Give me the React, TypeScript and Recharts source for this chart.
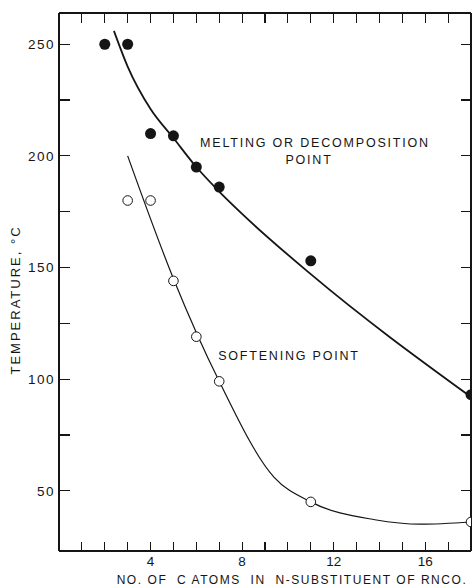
import React from 'react';
import { ComposedChart, Line, Scatter, XAxis, YAxis } from 'recharts';

// Measured points: carbon atoms in the N-substituent vs. temperature (°C)
const meltAtoms = [2, 3, 4, 5, 6, 7, 11, 18];
const meltTemps = [250, 250, 210, 209, 195, 186, 153, 93];
const softAtoms = [3, 4, 5, 6, 7, 11, 18];
const softTemps = [180, 180, 144, 119, 99, 45, 36];

// Hand-drawn smoothing curves through the points
const meltCurveAtoms = [2.4, 3, 4, 5, 6, 7, 8, 11, 18];
const meltCurveTemps = [256, 240, 221, 208, 195, 184, 174, 147, 92];
const softCurveAtoms = [3, 5, 7, 9.4, 11, 13.8, 15.8, 18];
const softCurveTemps = [200, 145, 99, 56, 45, 37, 35, 36];

const xTicks = [1, 2, 3, 4, 5, 6, 7, 8, 9, 10, 11, 12, 13, 14, 15, 16, 17, 18];
const topTicks = [1, 2, 3, 4, 5, 6, 7, 8, 9, 10, 11, 12, 13, 14, 15, 16, 17];
const xLabels = [4, 8, 12, 16];
const yTicks = [50, 75, 100, 125, 150, 175, 200, 225, 250];
const yLabels = [50, 100, 150, 200, 250];

const X_DOMAIN: [number, number] = [0, 18];
const Y_DOMAIN: [number, number] = [23, 264];

const zip = (xs: number[], ys: number[]) => xs.map((c, i) => ({ c, t: ys[i] }));
const meltPoints = zip(meltAtoms, meltTemps);
const softPoints = zip(softAtoms, softTemps);
const meltCurve = zip(meltCurveAtoms, meltCurveTemps);
const softCurve = zip(softCurveAtoms, softCurveTemps);
// anchor points on the top edge for the frame's tick marks
const topTickMarks = topTicks.map((c) => ({ c, t: Y_DOMAIN[1] }));

const INK = '#151515';
const FONT = '"Liberation Sans", Arial, sans-serif';

const fmtX = (v: number) => (xLabels.includes(v) ? String(v) : '');
const fmtY = (v: number) => (yLabels.includes(v) ? String(v) : '');
const blank = () => '';

const frameLine = { stroke: INK, strokeWidth: 1.2, shapeRendering: 'crispEdges' };

const FilledDot = ({ cx, cy }: any) => <circle cx={cx} cy={cy} r={5.5} fill={INK} />;
const OpenDot = ({ cx, cy }: any) => (
  <circle cx={cx} cy={cy} r={4.8} fill="#fff" stroke={INK} strokeWidth={1} />
);
// short mark hanging down from the top frame
const TopMark = ({ cx, cy }: any) => (
  <line x1={cx} x2={cx} y1={cy} y2={cy + 10} stroke={INK} strokeWidth={1.2}
    shapeRendering="crispEdges" />
);

const textStyle = { fontFamily: FONT, fill: INK } as const;
const tickText = { fontSize: 13.5, fontFamily: FONT, fill: INK };

export default function App() {
  return (
    <div style={{ position: 'absolute', left: 0, top: 0, background: '#fff' }}>
      <ComposedChart width={475} height={588} margin={{ top: 0, right: 0, bottom: 0, left: 0 }}>
        {/* frame: all four sides carry inward tick marks; the top/right pair mirrors the scales */}
        <XAxis xAxisId="b" dataKey="c" type="number" domain={X_DOMAIN} ticks={xTicks} interval={0}
          allowDataOverflow orientation="bottom" height={37} tickSize={-9} tickMargin={14}
          axisLine={frameLine} tickLine={frameLine} tick={tickText} tickFormatter={fmtX} />
        <XAxis xAxisId="t" dataKey="c" type="number" domain={X_DOMAIN} ticks={topTicks} interval={0}
          allowDataOverflow orientation="top" height={13} tickSize={0} tickMargin={0}
          axisLine={frameLine} tickLine={false} tick={false} tickFormatter={blank} />
        <YAxis yAxisId="l" type="number" domain={Y_DOMAIN} ticks={yTicks} interval={0}
          allowDataOverflow orientation="left" width={59} tickSize={-11} tickMargin={15}
          axisLine={frameLine} tickLine={frameLine}
          tick={{ ...tickText, letterSpacing: 1.5 }} tickFormatter={fmtY} />
        <YAxis yAxisId="r" type="number" domain={Y_DOMAIN} ticks={yTicks} interval={0}
          allowDataOverflow orientation="right" width={4} tickSize={-10} tickMargin={0}
          axisLine={frameLine} tickLine={frameLine} tick={{ fill: 'none' }}
          tickFormatter={blank} />

        <Scatter xAxisId="t" yAxisId="r" data={topTickMarks} dataKey="t" shape={<TopMark />}
          isAnimationActive={false} />

        <Line xAxisId="b" yAxisId="l" data={meltCurve} dataKey="t" type="monotone" stroke={INK}
          strokeWidth={1.8} dot={false} activeDot={false} isAnimationActive={false} />
        <Line xAxisId="t" yAxisId="r" data={softCurve} dataKey="t" type="monotone" stroke={INK}
          strokeWidth={1.2} dot={false} activeDot={false} isAnimationActive={false} />
        <Scatter xAxisId="b" yAxisId="l" data={meltPoints} dataKey="t" shape={<FilledDot />}
          isAnimationActive={false} />
        <Scatter xAxisId="t" yAxisId="r" data={softPoints} dataKey="t" shape={<OpenDot />}
          isAnimationActive={false} />

        <text x={315} y={147} textAnchor="middle" fontSize={12.5} letterSpacing={1.8} {...textStyle}>
          MELTING OR DECOMPOSITION
        </text>
        <text x={309} y={164} textAnchor="middle" fontSize={12.5} letterSpacing={1.8} {...textStyle}>
          POINT
        </text>
        <text x={289} y={360} textAnchor="middle" fontSize={12.5} letterSpacing={1.8} {...textStyle}>
          SOFTENING POINT
        </text>
        <text x={20} y={300} textAnchor="middle" fontSize={13} letterSpacing={2}
          transform="rotate(-90 20 300)" {...textStyle}>
          TEMPERATURE, °C
        </text>
        <text x={292} y={584} textAnchor="middle" fontSize={12} letterSpacing={1.55}
          style={{ whiteSpace: 'pre' }} {...textStyle}>
          {'NO. OF  C ATOMS  IN  N-SUBSTITUENT OF RNCO.'}
        </text>
      </ComposedChart>
    </div>
  );
}
